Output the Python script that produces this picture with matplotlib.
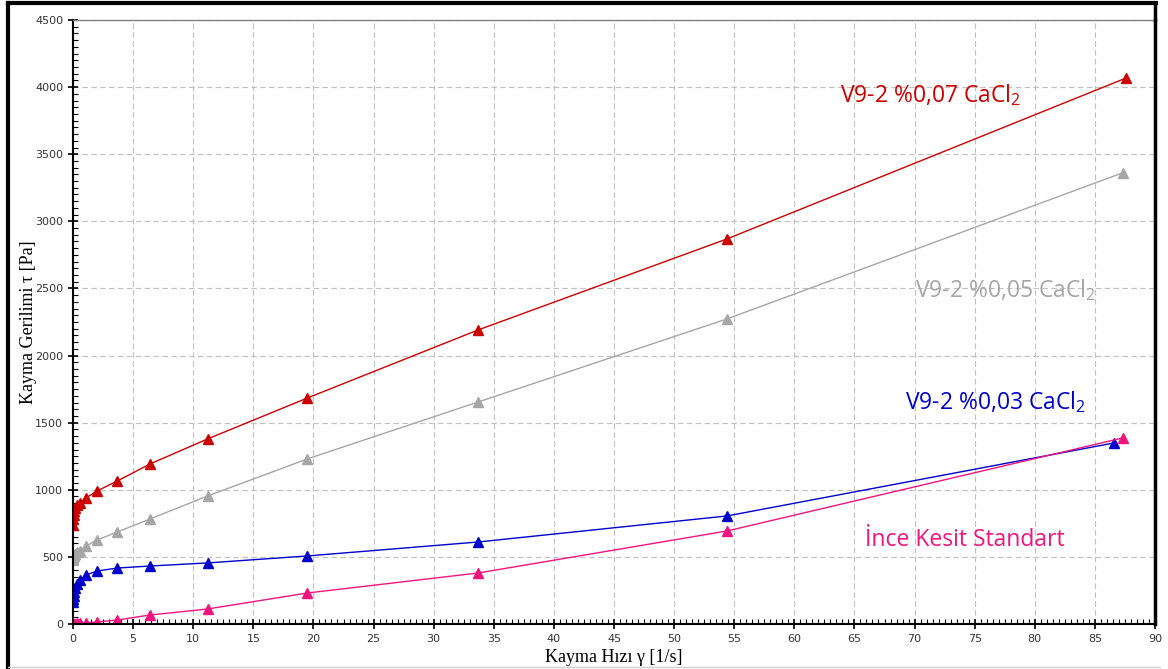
import numpy as np
import matplotlib
matplotlib.use("Agg")
from matplotlib import pyplot as plt
from matplotlib.lines import Line2D

plt.rcParams["mathtext.fontset"] = "custom"
plt.rcParams["mathtext.rm"] = "Open Sans"
plt.rcParams["mathtext.it"] = "Open Sans"

# shear rate [1/s]
x_common = [0.02, 0.04, 0.07, 0.12, 0.2, 0.35, 0.6, 1.1, 2.0, 3.7, 6.4, 11.2, 19.5, 33.7, 54.4]

red_x = x_common + [87.6]
red_y = [740, 780, 810, 840, 865, 885, 905, 940, 991, 1066, 1192, 1379, 1684, 2191, 2869, 4068]

gray_x = x_common + [87.3]
gray_y = [480, 495, 505, 515, 525, 535, 544, 581, 626, 686, 782, 954, 1230, 1654, 2273, 3361]

blue_x = x_common + [86.6]
blue_y = [165, 185, 210, 240, 270, 300, 328, 365, 395, 417, 432, 455, 507, 611, 805, 1349]

pink_x = x_common + [87.3]
pink_y = [2, 2, 2, 2, 3, 4, 5, 8, 15, 30, 67, 112, 231, 380, 693, 1386]

series = [
    (red_x, red_y, "#CC0000", "V9-2 %0,07 CaCl$_\\mathrm{2}$", 63.8, 3940),
    (gray_x, gray_y, "#A6A6A6", "V9-2 %0,05 CaCl$_\\mathrm{2}$", 70.0, 2489),
    (blue_x, blue_y, "#0000CC", "V9-2 %0,03 CaCl$_\\mathrm{2}$", 69.2, 1654),
    (pink_x, pink_y, "#F0147F", "İnce Kesit Standart", 65.9, 626),
]

fig = plt.figure(figsize=(11.68, 6.69), dpi=100)
ax = fig.add_axes([73 / 1168, 45 / 669, (1155 - 73) / 1168, (624 - 20) / 669])

for xs, ys, col, lab, tx, ty in series:
    ax.plot(xs, ys, color=col, lw=1.0, marker="^", ms=7, mec=col, mfc=col)
    ax.text(tx, ty, lab, color=col, fontsize=16.5, family=["Open Sans", "DejaVu Sans"],
            va="center", ha="left")

ax.set_xlim(0, 90)
ax.set_ylim(0, 4500)
ax.set_xticks(np.arange(0, 91, 5))
ax.set_yticks(np.arange(0, 4501, 500))
ax.set_xticks(np.arange(0, 90.1, 0.5), minor=True)
ax.set_yticks(np.arange(0, 4501, 50), minor=True)
ax.tick_params(which="major", direction="inout", length=7, width=1.2, labelsize=8,
               labelcolor="#333333")
ax.tick_params(which="minor", direction="in", length=3.5, width=0.8)
for lbl in ax.get_xticklabels() + ax.get_yticklabels():
    lbl.set_family("Liberation Sans Narrow")

ax.grid(True, which="major", color="#C0C0C0", ls=(0, (5, 3)), lw=0.8)
ax.set_axisbelow(True)

ax.spines["left"].set_linewidth(1.5)
ax.spines["bottom"].set_linewidth(1.5)
ax.spines["top"].set_color("#808080")
ax.spines["top"].set_linewidth(1.0)
ax.spines["right"].set_color("black")
ax.spines["right"].set_linewidth(2.5)

ax.set_xlabel("Kayma Hızı γ [1/s]", family="Liberation Serif", fontsize=13, labelpad=4)
ax.set_ylabel("Kayma Gerilimi τ [Pa]", family="Liberation Serif", fontsize=13)
ax.yaxis.set_label_coords(-0.033, 0.5)

# outer frame
tf = fig.transFigure
fig.add_artist(Line2D([8 / 1168, 8 / 1168], [0, 1 - 3 / 669], color="black", lw=3, transform=tf))
fig.add_artist(Line2D([8 / 1168, 1156 / 1168], [1 - 3 / 669, 1 - 3 / 669], color="black", lw=3,
                      transform=tf))
fig.add_artist(Line2D([1155 / 1168, 1155 / 1168], [1 - 3 / 669, 1 - 20 / 669], color="black",
                      lw=2.5, transform=tf))
fig.add_artist(Line2D([8 / 1168, 1160 / 1168], [2 / 669, 2 / 669], color="#D0D0D0", lw=1,
                      transform=tf))

fig.savefig("out.png", dpi=100)
